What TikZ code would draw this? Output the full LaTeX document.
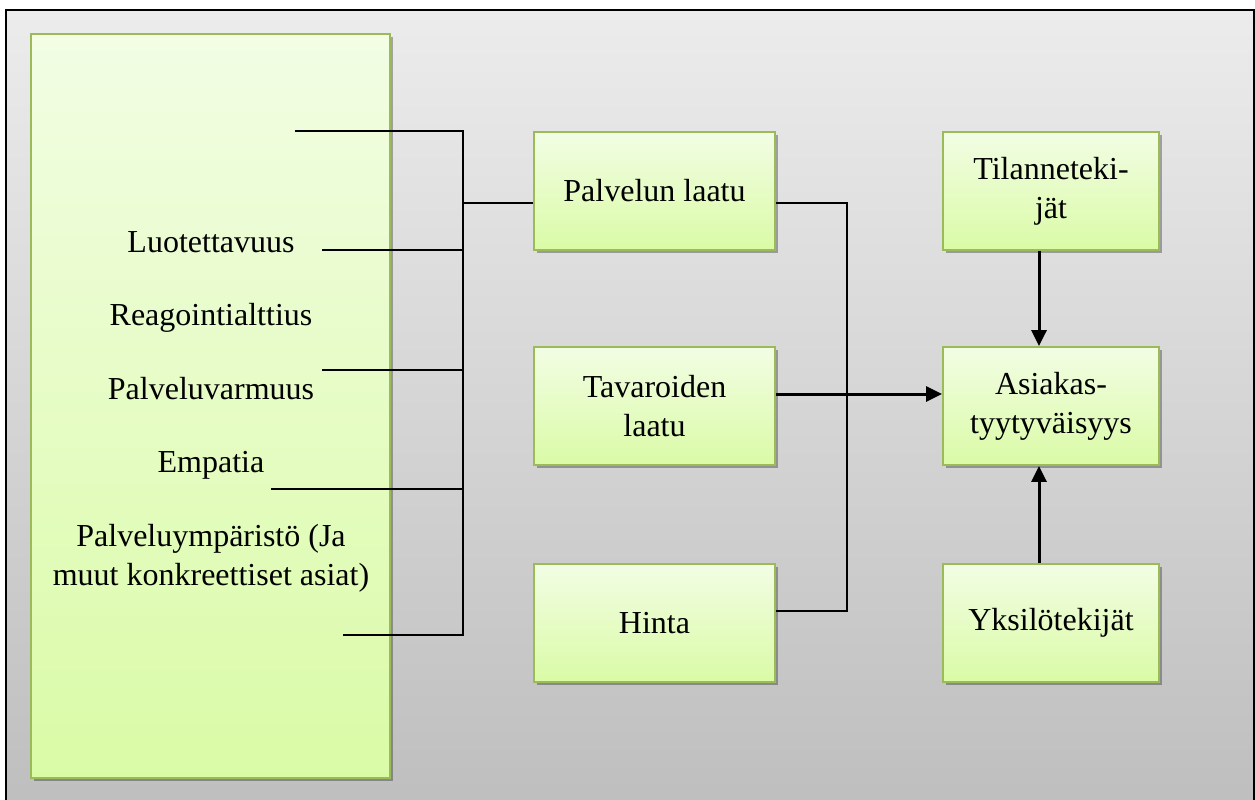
\documentclass[tikz,border=0pt]{standalone}
\usepackage{fontspec}
\setmainfont{Liberation Serif}
\usetikzlibrary{arrows.meta,shadows}
\definecolor{bgtop}{RGB}{236,236,236}
\definecolor{bgbot}{RGB}{190,190,190}
\definecolor{boxtop}{RGB}{242,253,228}
\definecolor{boxbot}{RGB}{218,251,166}
\definecolor{boxline}{RGB}{155,187,89}
\begin{document}
\begin{tikzpicture}[x=1pt,y=-1pt,
  box/.style={draw=boxline, line width=1.8pt, top color=boxtop, bottom color=boxbot,
    drop shadow={shadow xshift=2.5pt, shadow yshift=-3pt, opacity=0.3, fill=black},
    inner sep=0pt, align=center, font=\fontsize{32}{39}\selectfont,
    minimum width=241pt, minimum height=118pt},
  sbox/.style={box, minimum width=216pt},
  lbl/.style={anchor=base, inner sep=0pt, align=center, font=\fontsize{32}{39}\selectfont},
  conn/.style={line width=2pt, black},
  arr/.style={line width=3pt, black, -{Triangle[length=16pt,width=15pt]}}]
\useasboundingbox (0,0) rectangle (1255,800);
\fill[white] (0,0) rectangle (1255,800);
\shade[top color=bgtop, bottom color=bgbot] (6,10) rectangle (1254,810);
\draw[line width=2pt] (6,810) -- (6,10) -- (1254,10) -- (1254,810);

% left box and its texts
\node[box, minimum width=359pt, minimum height=744pt] (left) at (210.5,406) {};
\node[lbl] (t1) at (211,252) {Luotettavuus};
\node[lbl] (t2) at (211,325) {Reagointialttius};
\node[lbl] (t3) at (211,399) {Palveluvarmuus};
\node[lbl] (t4) at (211,472) {Empatia};
\node[lbl] (t5) at (211,585) {Palveluympäristö (Ja\\muut konkreettiset asiat)};

% middle boxes
\node[box] (pl) at (654.5,191) {Palvelun laatu};
\node[box] (tl) at (654.5,406) {Tavaroiden\\laatu};
\node[box] (hi) at (654.5,623) {Hinta};

% right boxes
\node[sbox] (ti) at (1051,191) {Tilanneteki-\\jät};
\node[sbox] (as) at (1051,406) {Asiakas-\\tyytyväisyys};
\node[sbox] (yk) at (1051,623) {Yksilötekijät};

% bus on the left
\coordinate (a1) at (295,131);
\coordinate (a2) at (322,250);
\coordinate (a3) at (322,370);
\coordinate (a4) at (271,489);
\coordinate (a5) at (343,635);
\coordinate (b1) at (463,131);
\coordinate (b2) at (463,250);
\coordinate (b3) at (463,370);
\coordinate (b4) at (463,489);
\coordinate (b5) at (463,635);
\coordinate (bj) at (463,203);
\draw[conn] (a1) -- (b1) -- (b5) -- (a5);
\draw[conn] (a2) -- (b2);
\draw[conn] (a3) -- (b3);
\draw[conn] (a4) -- (b4);
\draw[conn] (bj) -- (bj -| pl.west);

% bracket on the right of the middle column
\coordinate (r1) at (847,203);
\coordinate (r2) at (847,611);
\draw[conn] (r1 -| pl.east) -- (r1) -- (r2) -- (r2 -| hi.east);

% arrows
\coordinate (my) at (0,394);
\draw[arr] (my -| tl.east) -- (my -| as.west);
\coordinate (ax) at (1039,0);
\draw[arr] (ax |- ti.south) -- (ax |- as.north);
\draw[arr] (ax |- yk.north) -- (ax |- as.south);
\end{tikzpicture}
\end{document}
